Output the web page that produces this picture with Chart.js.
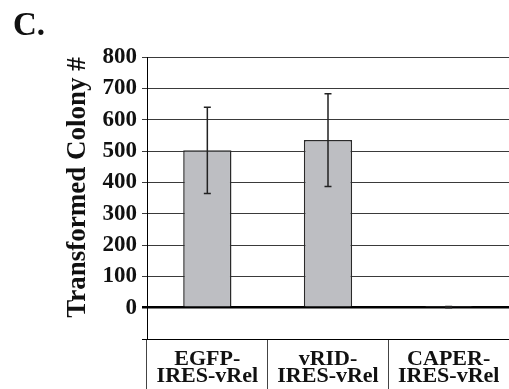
<!DOCTYPE html>
<html>
<head>
<meta charset="utf-8">
<script src="https://cdn.jsdelivr.net/npm/chart.js@4.4.0/dist/chart.umd.min.js"></script>
<style>
html,body{margin:0;padding:0;background:#fff;}
canvas{display:block;}
</style>
</head>
<body>
<canvas id="c" width="509" height="389"></canvas>
<script>
const panelLabel = "C.";
const yAxisTitle = "Transformed Colony #";
const categories = [["EGFP-","IRES-vRel"],["vRID-","IRES-vRel"],["CAPER-","IRES-vRel"]];
const colonyMeans = [502, 535, 2];
const colonyErrors = [138, 148, 2];
const yMin = -100, yMax = 800, yStep = 100;

const FONT = '"Liberation Serif","Times New Roman",serif';

const decor = {
  id: 'decor',
  afterDraw(chart) {
    const ctx = chart.ctx;
    ctx.save();
    ctx.fillStyle = '#111';
    ctx.font = 'bold 33px ' + FONT;
    ctx.textAlign = 'left';
    ctx.textBaseline = 'alphabetic';
    ctx.fillText(panelLabel, 13, 35);
    ctx.translate(78, 187.5);
    ctx.rotate(-Math.PI / 2);
    ctx.font = 'bold 27px ' + FONT;
    ctx.textAlign = 'center';
    ctx.textBaseline = 'middle';
    ctx.fillText(yAxisTitle, 0, 0);
    ctx.restore();
  }
};

const errorBars = {
  id: 'errorBars',
  afterDatasetsDraw(chart) {
    const ctx = chart.ctx;
    const meta = chart.getDatasetMeta(0);
    const ys = chart.scales.y;
    ctx.save();
    ctx.strokeStyle = '#222';
    ctx.lineWidth = 1.5;
    meta.data.forEach((bar, i) => {
      const x = bar.x;
      const top = ys.getPixelForValue(colonyMeans[i] + colonyErrors[i]);
      const bot = ys.getPixelForValue(colonyMeans[i] - colonyErrors[i]);
      ctx.beginPath();
      ctx.moveTo(x, top); ctx.lineTo(x, bot);
      ctx.moveTo(x - 3.5, top); ctx.lineTo(x + 3.5, top);
      ctx.moveTo(x - 3.5, bot); ctx.lineTo(x + 3.5, bot);
      ctx.stroke();
    });
    ctx.restore();
  }
};

new Chart(document.getElementById('c'), {
  type: 'bar',
  data: {
    labels: categories,
    datasets: [{
      data: colonyMeans,
      backgroundColor: '#bdbec2',
      borderColor: '#2a2a2a',
      borderWidth: 1.5,
      categoryPercentage: 1.0,
      barPercentage: 0.4
    }]
  },
  options: {
    responsive: false,
    animation: false,
    devicePixelRatio: 1,
    layout: { padding: { top: 57, left: 0, right: 0, bottom: 0 } },
    plugins: { legend: { display: false }, tooltip: { enabled: false }, title: { display: false } },
    scales: {
      x: {
        afterFit(s) { s.height = 50; },
        grid: { display: true, drawOnChartArea: false, offset: true, tickLength: 50, color: '#444', lineWidth: 1 },
        border: { display: true, color: '#000', width: 1 },
        ticks: {
          color: '#111',
          padding: -38,
          maxRotation: 0,
          autoSkip: false,
          font: { family: FONT, size: 22, weight: 'bold', lineHeight: 0.76 }
        }
      },
      y: {
        min: yMin, max: yMax,
        afterFit(s) { s.width = 147; },
        grid: {
          color: ctx => (ctx.tick && (ctx.tick.value === 0 || ctx.tick.value === -100)) ? '#000' : '#3a3a3a',
          lineWidth: ctx => ctx.tick && ctx.tick.value === 0 ? 2.5 : 1,
          tickLength: 5
        },
        border: { display: true, color: '#000', width: 1 },
        ticks: {
          stepSize: yStep,
          padding: 5,
          color: '#111',
          font: { family: FONT, size: 23, weight: 'bold' },
          callback: v => v < 0 ? '' : v
        }
      }
    }
  },
  plugins: [decor, errorBars]
});
</script>
</body>
</html>
